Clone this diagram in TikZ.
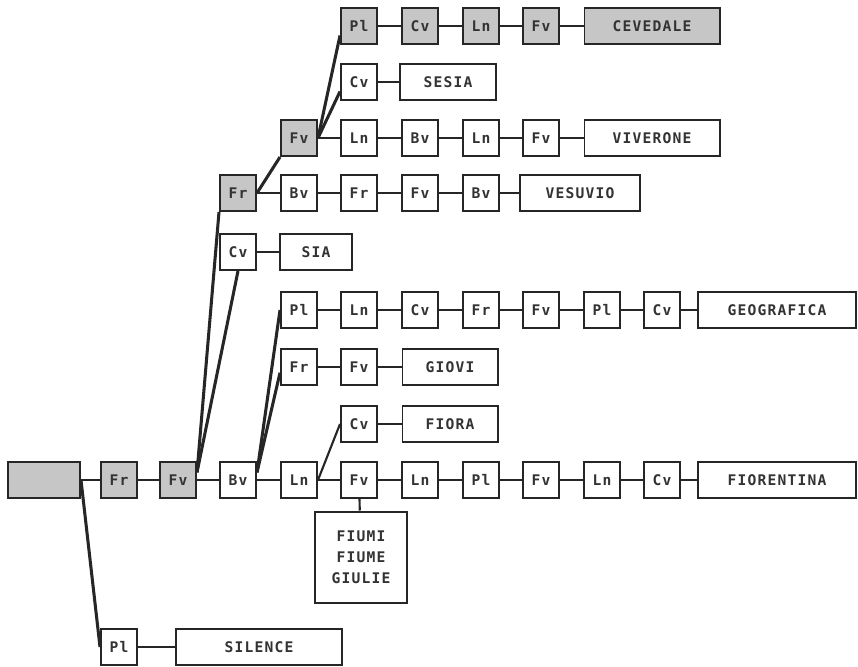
\documentclass[tikz,border=0pt]{standalone}
\usepackage{fontspec}
\usepackage{tikz}
\usetikzlibrary{positioning,calc}
\newfontfamily\termfont[LetterSpace=8]{DejaVu Sans Mono}
\tikzset{
  cell/.style={draw=black!85, line width=1.7pt, fill=white, minimum width=1.08cm, minimum height=1.08cm,
               inner sep=0pt, align=center, font=\termfont\bfseries\fontsize{12.5}{18}\selectfont,
               text=black!80},
  hitcell/.style={cell, fill=gray!45},
  word/.style={cell, minimum width=#1},
  hitword/.style={word=#1, fill=gray!45},
  link/.style={line width=1.8pt, black!85},
  fork/.style={line width=2.6pt, black!85}
}

\begin{document}
\begin{tikzpicture}[x=0.03cm, y=-0.03cm]
    \useasboundingbox (0,0) rectangle (858,667);
    % main row
    \node[hitword=2.16cm] (root) at (44,480) {};
    \node[hitcell] (fr1) at (119,480) {Fr};
    \node[hitcell] (fv1) at (178,480) {Fv};
    \node[cell] (bv1) at (238,480) {Bv};
    \node[cell] (ln1) at (299,480) {Ln};
    \node[cell] (fv2) at (359,480) {Fv};
    \node[cell] (ln2) at (420,480) {Ln};
    \node[cell] (pl2) at (481,480) {Pl};
    \node[cell] (fv3) at (541,480) {Fv};
    \node[cell] (ln3) at (602,480) {Ln};
    \node[cell] (cv3) at (662,480) {Cv};
    \node[word=4.74cm] (fiorentina) at (777,480) {FIORENTINA};
    \node[cell, minimum width=2.76cm, minimum height=2.73cm] (fiumi) at (361,557) {FIUMI\\FIUME\\GIULIE};
    \node[cell] (plS) at (119,647) {Pl};
    \node[word=4.98cm] (silence) at (259,647) {SILENCE};
    % lower branches
    \node[cell] (cvF) at (359,424) {Cv};
    \node[word=2.85cm] (fiora) at (450,424) {FIORA};
    \node[cell] (frG) at (299,367) {Fr};
    \node[cell] (fvG) at (359,367) {Fv};
    \node[word=2.85cm] (giovi) at (450,367) {GIOVI};
    \node[cell] (plA) at (299,310) {Pl};
    \node[cell] (lnA) at (359,310) {Ln};
    \node[cell] (cvA) at (420,310) {Cv};
    \node[cell] (frA) at (481,310) {Fr};
    \node[cell] (fvA) at (541,310) {Fv};
    \node[cell] (plA2) at (602,310) {Pl};
    \node[cell] (cvA2) at (662,310) {Cv};
    \node[word=4.74cm] (geografica) at (777,310) {GEOGRAFICA};
    % upper branches
    \node[cell] (cvS) at (238,252) {Cv};
    \node[word=2.16cm] (sia) at (316,252) {SIA};
    \node[hitcell] (frV) at (238,193) {Fr};
    \node[cell] (bvV) at (299,193) {Bv};
    \node[cell] (frV2) at (359,193) {Fr};
    \node[cell] (fvV) at (420,193) {Fv};
    \node[cell] (bvV2) at (481,193) {Bv};
    \node[word=3.6cm] (vesuvio) at (580,193) {VESUVIO};
    \node[hitcell] (fvR) at (299,138) {Fv};
    \node[cell] (lnR) at (359,138) {Ln};
    \node[cell] (bvR) at (420,138) {Bv};
    \node[cell] (lnR2) at (481,138) {Ln};
    \node[cell] (fvR2) at (541,138) {Fv};
    \node[word=4.05cm] (viverone) at (652,138) {VIVERONE};
    \node[cell] (cvE) at (359,82) {Cv};
    \node[word=2.88cm] (sesia) at (448,82) {SESIA};
    \node[hitcell] (plC) at (359,26) {Pl};
    \node[hitcell] (cvC) at (420,26) {Cv};
    \node[hitcell] (lnC) at (481,26) {Ln};
    \node[hitcell] (fvC) at (541,26) {Fv};
    \node[hitword=4.05cm] (cevedale) at (652,26) {CEVEDALE};
    % chains
    \foreach \a/\b in {root/fr1, fr1/fv1, fv1/bv1, bv1/ln1, ln1/fv2, fv2/ln2, ln2/pl2, pl2/fv3,
                       fv3/ln3, ln3/cv3, cv3/fiorentina, plS/silence, cvF/fiora, frG/fvG, fvG/giovi,
                       plA/lnA, lnA/cvA, cvA/frA, frA/fvA, fvA/plA2, plA2/cvA2, cvA2/geografica,
                       cvS/sia, frV/bvV, bvV/frV2, frV2/fvV, fvV/bvV2, bvV2/vesuvio,
                       fvR/lnR, lnR/bvR, bvR/lnR2, lnR2/fvR2, fvR2/viverone, cvE/sesia,
                       plC/cvC, cvC/lnC, lnC/fvC, fvC/cevedale}
      \draw[link] (\a) -- (\b);
    \draw[link] (fv2) -- (fiumi);
    % forks
    \draw[fork] (root.east) -- (plS.west);
    \draw[fork] ($(fv1.east)!.4!(fv1.north east)$) -- (frV.south west);
    \draw[fork] ($(fv1.east)!.4!(fv1.north east)$) -- (cvS.south);
    \draw[fork] (frV.east) -- (fvR.south west);
    \draw[fork] (fvR.east) -- ($(plC.west)!.5!(plC.south west)$);
    \draw[fork] (fvR.east) -- ($(cvE.west)!.5!(cvE.south west)$);
    \draw[fork] ($(bv1.east)!.4!(bv1.north east)$) -- (plA.west);
    \draw[fork] ($(bv1.east)!.4!(bv1.north east)$) -- ($(frG.west)!.3!(frG.south west)$);
    \draw[link] (ln1.east) -- (cvF.west);
  \end{tikzpicture}
\end{document}
